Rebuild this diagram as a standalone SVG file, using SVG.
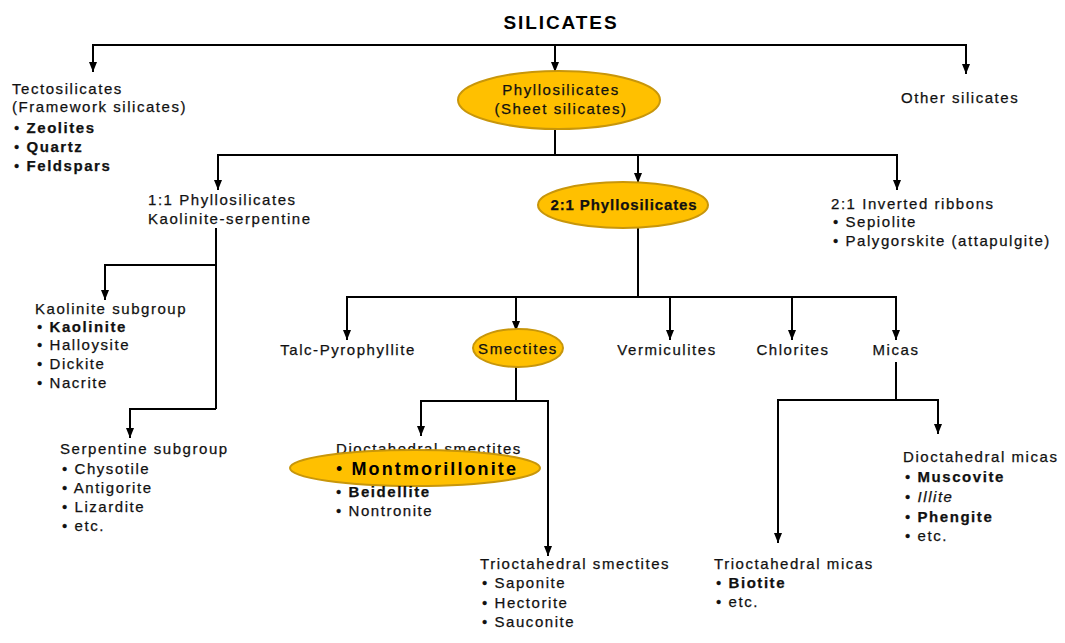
<svg xmlns="http://www.w3.org/2000/svg" width="1065" height="643" viewBox="0 0 1065 643">
<defs>
<marker id="ah" markerUnits="userSpaceOnUse" markerWidth="12" markerHeight="10" refX="10" refY="4" orient="auto">
<path d="M0,0 L10,4 L0,8 z" fill="#000"/>
</marker>
<style>
.t{font-family:"Liberation Sans",Arial,sans-serif;font-size:15px;letter-spacing:1.55px;fill:#111;stroke:#111;stroke-width:0.25px}
.b{font-weight:bold}
.m{text-anchor:middle}
.ttl{font-family:"Liberation Sans",Arial,sans-serif;font-size:19px;font-weight:bold;letter-spacing:1.9px;fill:#000;text-anchor:middle}
.big{font-family:"Liberation Sans",Arial,sans-serif;font-size:18px;font-weight:bold;letter-spacing:2.1px;fill:#000}
.ell{fill:#FFC000;stroke:#C8960A;stroke-width:2}
.c{fill:none;stroke:#000;stroke-width:2}
.a{marker-end:url(#ah)}
</style>
</defs>
<rect width="1065" height="643" fill="#fff"/>

<g id="connectors">
<path class="c a" d="M555,45 H93 V72"/>
<path class="c a" d="M555,45 H966 V74"/>
<path class="c a" d="M555,45 V72"/>
<path class="c" d="M555,129 V155"/>
<path class="c a" d="M555,155 H218 V190"/>
<path class="c a" d="M555,155 H638 V183"/>
<path class="c a" d="M555,155 H897 V190"/>
<path class="c" d="M216,228 V409"/>
<path class="c a" d="M216,265 H105 V300"/>
<path class="c a" d="M216,409 H130 V438"/>
<path class="c" d="M638,228 V297"/>
<path class="c a" d="M638,297 H347 V340"/>
<path class="c a" d="M638,297 H516 V331"/>
<path class="c a" d="M638,297 H670 V340"/>
<path class="c a" d="M638,297 H792 V340"/>
<path class="c a" d="M638,297 H896 V340"/>
<path class="c" d="M516,367 V401"/>
<path class="c a" d="M516,401 H421 V436"/>
<path class="c a" d="M516,401 H548 V556"/>
<path class="c" d="M896,362 V400"/>
<path class="c a" d="M896,400 H778 V543"/>
<path class="c a" d="M896,400 H938 V434"/>
</g>

<g id="silicates"><text class="ttl" x="561" y="29">SILICATES</text></g>

<g id="tectosilicates">
<text class="t" x="12" y="94">Tectosilicates</text>
<text class="t" x="12" y="112">(Framework silicates)</text>
<text class="t" x="14" y="133">• <tspan class="b">Zeolites</tspan></text>
<text class="t" x="14" y="152">• <tspan class="b">Quartz</tspan></text>
<text class="t" x="14" y="171">• <tspan class="b">Feldspars</tspan></text>
</g>

<g id="phyllosilicates">
<ellipse class="ell" cx="559" cy="100" rx="101" ry="29"/>
<text class="t m" x="561" y="95">Phyllosilicates</text>
<text class="t m" x="561" y="114">(Sheet silicates)</text>
</g>

<g id="other"><text class="t" x="901" y="103">Other silicates</text></g>

<g id="p11">
<text class="t" x="148" y="205">1:1 Phyllosilicates</text>
<text class="t" x="148" y="224">Kaolinite-serpentine</text>
</g>

<g id="p21">
<ellipse class="ell" cx="623" cy="205" rx="85" ry="23"/>
<text class="t m b" x="624" y="210" style="letter-spacing:0.9px">2:1 Phyllosilicates</text>
</g>

<g id="ribbons">
<text class="t" x="831" y="209">2:1 Inverted ribbons</text>
<text class="t" x="833" y="227">• Sepiolite</text>
<text class="t" x="833" y="246">• Palygorskite (attapulgite)</text>
</g>

<g id="kaolinite">
<text class="t" x="35" y="314">Kaolinite subgroup</text>
<text class="t" x="37" y="332">• <tspan class="b">Kaolinite</tspan></text>
<text class="t" x="37" y="350">• Halloysite</text>
<text class="t" x="37" y="369">• Dickite</text>
<text class="t" x="37" y="388">• Nacrite</text>
</g>

<g id="serpentine">
<text class="t" x="60" y="454">Serpentine subgroup</text>
<text class="t" x="62" y="474">• Chysotile</text>
<text class="t" x="62" y="493">• Antigorite</text>
<text class="t" x="62" y="512">• Lizardite</text>
<text class="t" x="62" y="531">• etc.</text>
</g>

<g id="talc"><text class="t m" x="348" y="355">Talc-Pyrophyllite</text></g>

<g id="smectites">
<ellipse class="ell" cx="518" cy="348" rx="45" ry="19"/>
<text class="t m" x="518" y="354">Smectites</text>
</g>

<g id="vermiculites"><text class="t m" x="667" y="355">Vermiculites</text></g>
<g id="chlorites"><text class="t m" x="793" y="355">Chlorites</text></g>
<g id="micas"><text class="t m" x="896" y="355">Micas</text></g>

<g id="dioct-smectites">
<text class="t" x="336" y="454">Dioctahedral smectites</text>
<ellipse class="ell" cx="415" cy="468" rx="125" ry="18"/>
<text class="big" x="336" y="475"><tspan style="font-weight:normal">•</tspan> Montmorillonite</text>
<text class="t" x="336" y="497">• <tspan class="b">Beidellite</tspan></text>
<text class="t" x="336" y="516">• Nontronite</text>
</g>

<g id="trioct-smectites">
<text class="t" x="480" y="569">Trioctahedral smectites</text>
<text class="t" x="482" y="588">• Saponite</text>
<text class="t" x="482" y="608">• Hectorite</text>
<text class="t" x="482" y="627">• Sauconite</text>
</g>

<g id="trioct-micas">
<text class="t" x="714" y="569">Trioctahedral micas</text>
<text class="t" x="716" y="588">• <tspan class="b">Biotite</tspan></text>
<text class="t" x="716" y="607">• etc.</text>
</g>

<g id="dioct-micas">
<text class="t" x="903" y="462">Dioctahedral micas</text>
<text class="t" x="905" y="482">• <tspan class="b">Muscovite</tspan></text>
<text class="t" x="905" y="502">• <tspan style="font-style:italic">Illite</tspan></text>
<text class="t" x="905" y="522">• <tspan class="b">Phengite</tspan></text>
<text class="t" x="905" y="541">• etc.</text>
</g>
</svg>
